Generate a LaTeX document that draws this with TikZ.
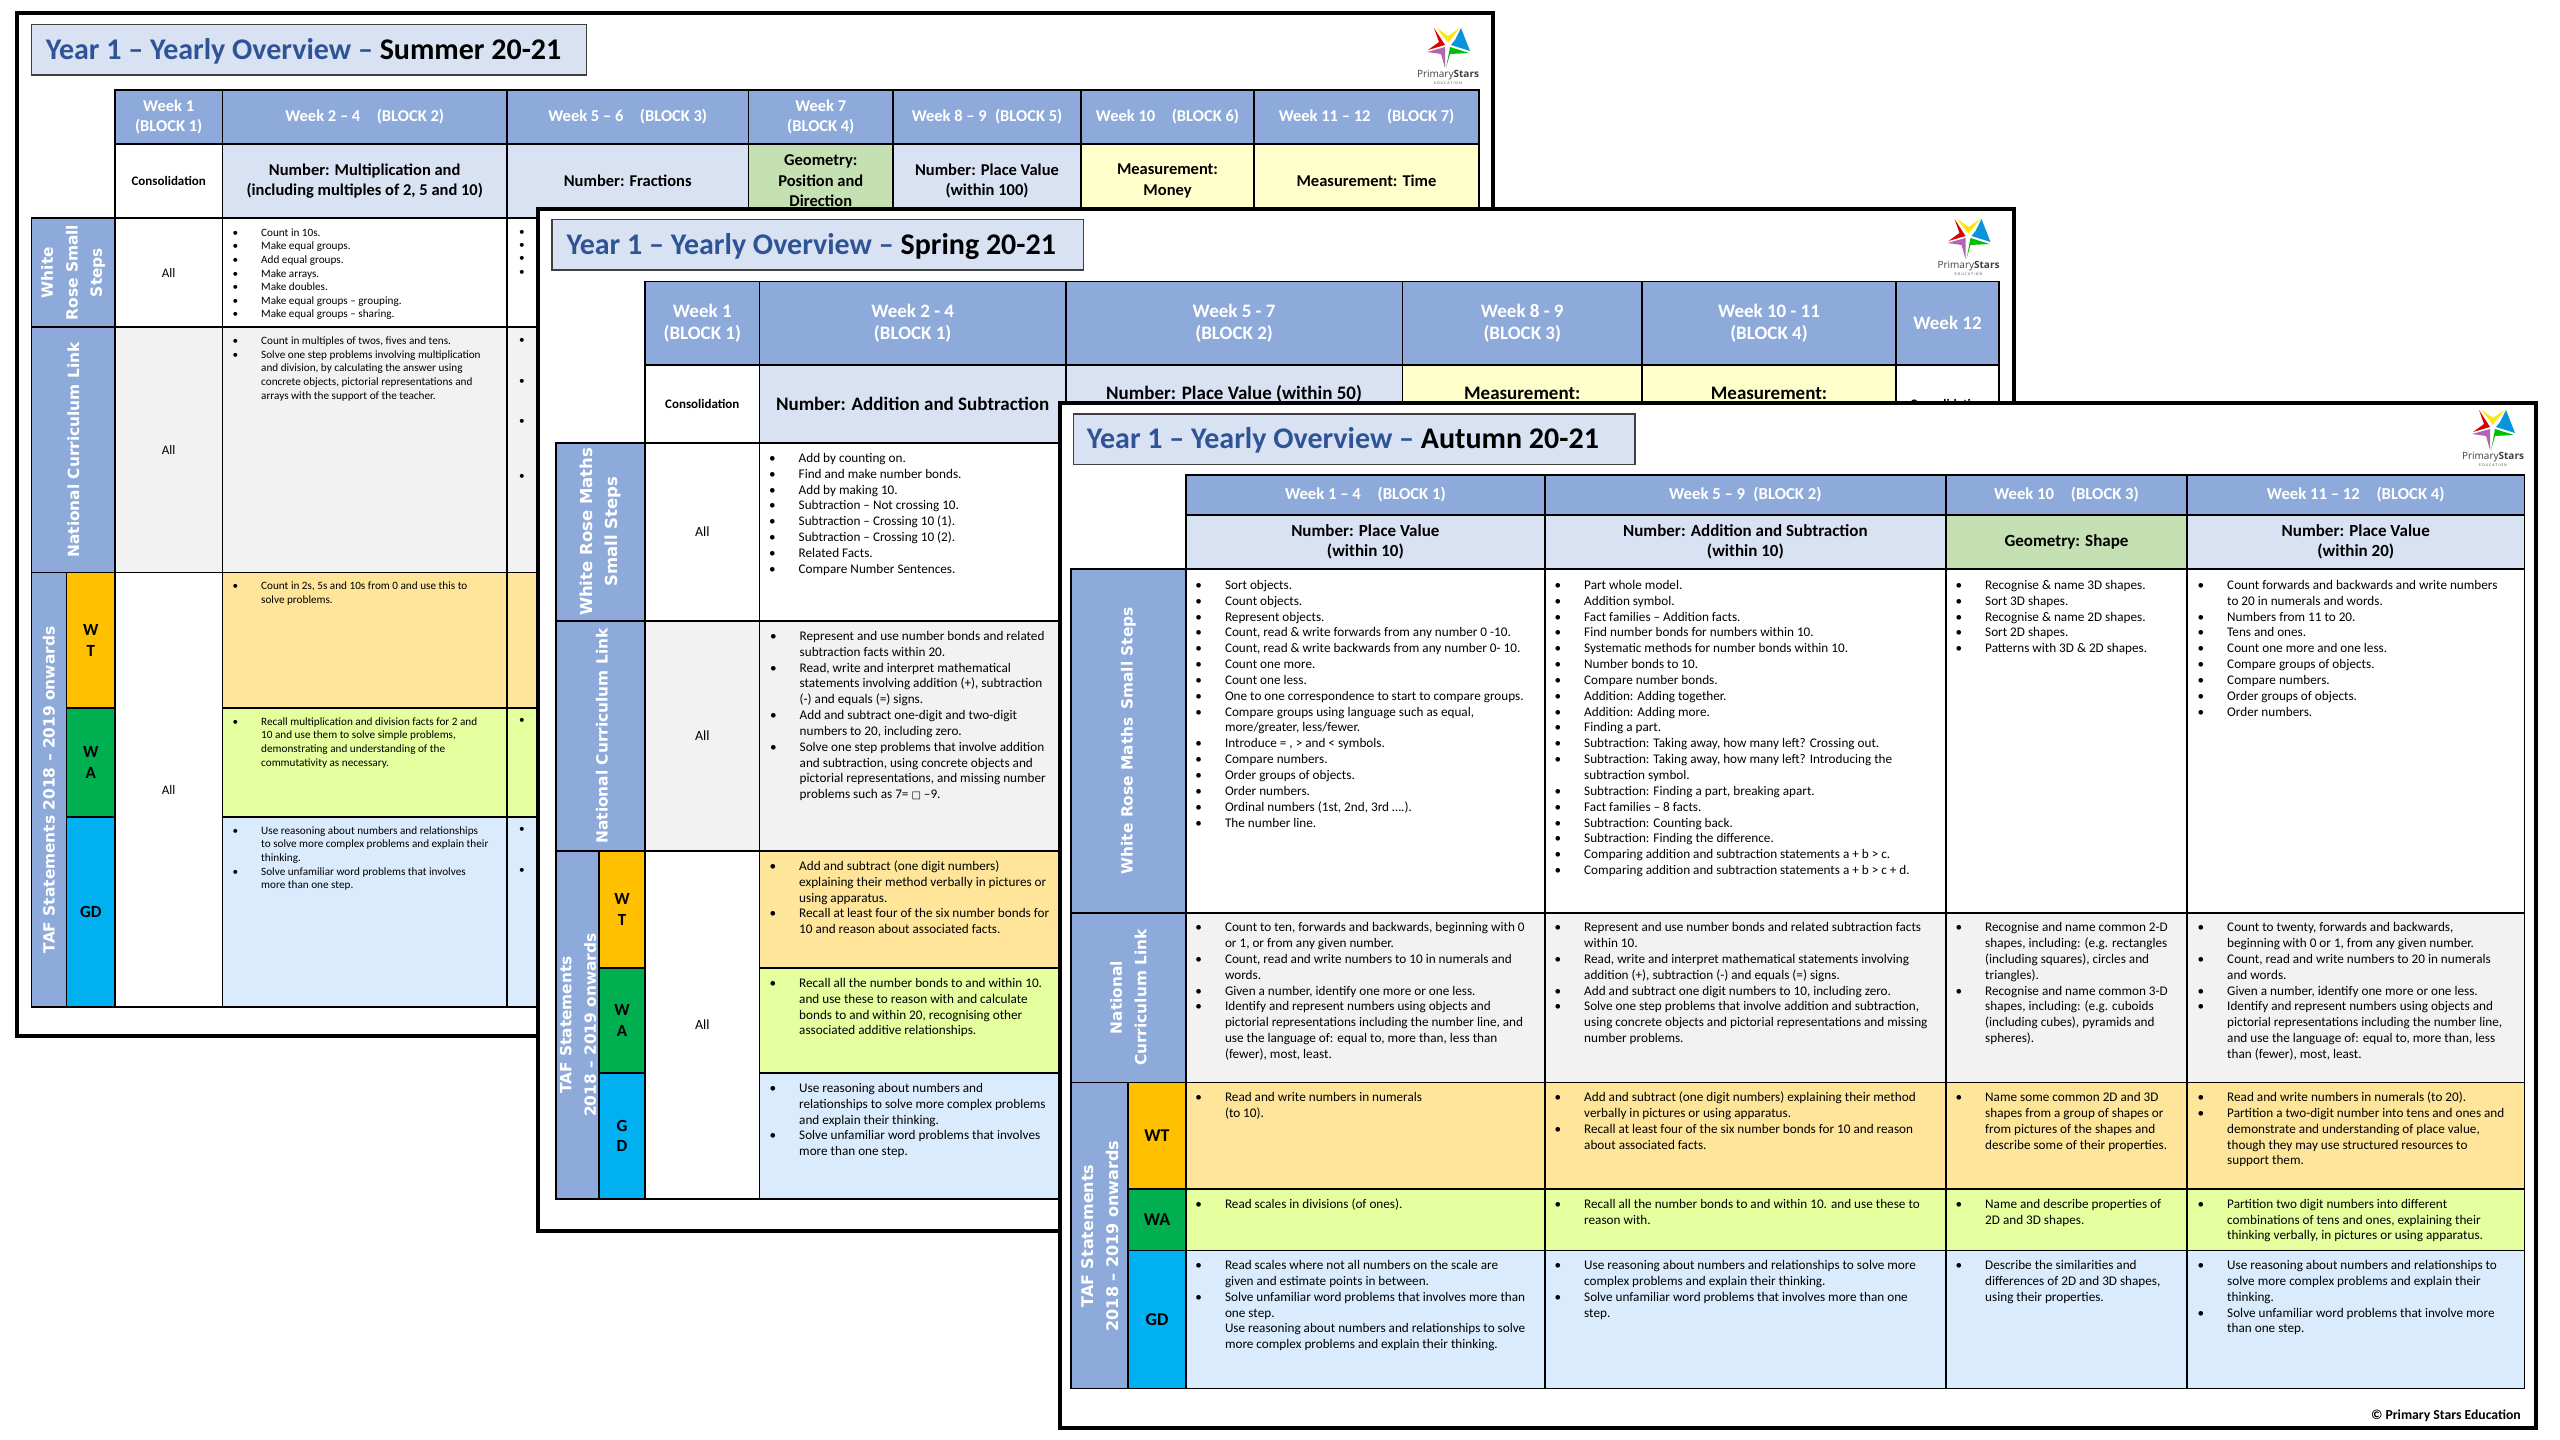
\documentclass[tikz,border=0pt]{standalone}
\usepackage{fontspec}
\setmainfont{Carlito}
\newfontfamily\sidefont{DejaVu Sans}
\newfontfamily\logofont{Open Sans}
\usetikzlibrary{positioning}
\definecolor{headblue}{HTML}{8EAADB}
\definecolor{subjblue}{HTML}{D9E2F3}
\definecolor{titleblue}{HTML}{2F5496}
\definecolor{geogreen}{HTML}{C5E0B3}
\definecolor{measyellow}{HTML}{FFFFCC}
\definecolor{nclgray}{HTML}{F2F2F2}
\definecolor{wtfill}{HTML}{FEE599}
\definecolor{wafill}{HTML}{E5FF9F}
\definecolor{gdfill}{HTML}{D9EBFD}
\definecolor{wttag}{HTML}{FFC000}
\definecolor{watag}{HTML}{00B050}
\definecolor{gdtag}{HTML}{00B0F0}
\definecolor{logogray}{HTML}{404040}
\newcommand\fsz[2]{\fontsize{#1}{#2}\selectfont}
\newcommand\bull{\strut\llap{•\hspace{23pt}}}
\tikzset{
  cellbox/.style={draw=black,line width=1.6pt,inner sep=0pt,align=center},
  sheetframe/.style={draw=black,fill=white,line width=4pt},
  titlebox/.style={draw=black!75,fill=subjblue,line width=1.3pt},
  titletext/.style={anchor=west,inner sep=0pt,font=\fsz{30}{32}\bfseries},
  sumlist/.style={anchor=north west,inner sep=0pt,align=left,font=\fsz{11.2}{13.6}},
  biglist/.style={anchor=north west,inner sep=0pt,align=left,font=\fsz{13.2}{15.85}},
  sidelabel/.style={rotate=90,text=white,inner sep=0pt,align=center,font=\sidefont\bfseries\fsz{15.4}{24.5}},
  dotmark/.style={inner sep=0pt,font=\fsz{11.2}{13.6}},
}
% one table cell, from corner to corner
\newcommand\gridcell[7]{%
  \pgfmathsetmacro\cw{#4-#2}\pgfmathsetmacro\ch{#5-#3}%
  \node[cellbox,#6,minimum width=\cw pt,minimum height=\ch pt] (#1) at ({(#2+#4)/2},{(#3+#5)/2}) {#7};}
% the star and the words under it
\newcommand\starlogo[3]{%
  \begin{scope}[shift={(#2,#3)}]
    \fill[yellow!90!orange] (-11.7,-18.3) -- (0,-10) -- (12,-18.3) -- (0,-3.5) -- cycle;
    \fill[red!85!black] (-14,-18) -- (-3,-1) -- (-20,4) -- (-9,-4) -- cycle;
    \fill[cyan!80!blue] (13,-18) -- (22,5) -- (3,-1) -- (7,-6) -- cycle;
    \fill[green!75!black] (21,7) -- (2,1) -- (-2,22) -- (2,8) -- cycle;
    \fill[violet!60!white] (-21,6) -- (-3,1) -- (-3,22) -- (-7,8) -- cycle;
    \node[inner sep=0pt,text=logogray,font=\logofont\fsz{10}{12}] (#1word) at (0,29) {Primary\textbf{Stars}};
    \node[inner sep=0pt,text=logogray,font=\logofont\fsz{3.6}{4}] (#1edu) at (0,37) {E D U C A T I O N};
  \end{scope}}
\begin{document}
\begin{tikzpicture}[x=1pt,y=-1pt]
  \path[fill=white,use as bounding box] (0,0) rectangle (2560,1440);

  %% Summer sheet
  \draw[sheetframe] (17,13) rectangle (1493,1036);
  \draw[titlebox] (31.5,24.5) rectangle (586.5,75);
  \node[titletext] (sumtitle) at (45.6,51) {\textcolor{titleblue}{Year 1 – Yearly Overview –} Summer 20-21};
  \starlogo{sum}{1448}{46}
  \foreach \nm/\xa/\xb/\txt in {a/115/222.4/{Week 1\\(BLOCK 1)},b/222.4/507/{Week 2 – 4\quad (BLOCK 2)},
      c/507/748.5/{Week 5 – 6\quad (BLOCK 3)},d/748.5/893/{Week 7\\(BLOCK 4)},e/893/1081/{Week 8 – 9\enspace (BLOCK 5)},
      f/1081/1254/{Week 10\quad (BLOCK 6)},g/1254/1479/{Week 11 – 12\quad (BLOCK 7)}} {
    \gridcell{sumh\nm}{\xa}{90}{\xb}{144}{fill=headblue,text=white,font=\fsz{16.5}{20.5}\bfseries}{\txt}
  }
  \foreach \nm/\xa/\xb/\col/\txt in {b/222.4/507/subjblue/{Number: Multiplication and\\(including multiples of 2, 5 and 10)},
      c/507/748.5/subjblue/{Number: Fractions},d/748.5/893/geogreen/{Geometry:\\Position and\\Direction},
      e/893/1081/subjblue/{Number: Place Value\\(within 100)},f/1081/1254/measyellow/{Measurement:\\Money},
      g/1254/1479/measyellow/{Measurement: Time}} {
    \gridcell{sums\nm}{\xa}{144}{\xb}{218}{fill=\col,font=\fsz{16.5}{20.5}\bfseries}{\txt}
  }
  \gridcell{sumsa}{115}{144}{222.4}{218}{fill=white,font=\fsz{13}{15}\bfseries}{Consolidation}
  \foreach \nm/\ya/\yb/\col in {ss/218/327/white,nc/327/572.6/nclgray,wt/572.6/708/wtfill,wa/708/817/wafill,gd/817/1007/gdfill} {
    \foreach \cn/\xa/\xb in {b/222.4/507,c/507/748.5} {
      \gridcell{sum\nm\cn}{\xa}{\ya}{\xb}{\yb}{fill=\col}{}
    }
  }
  \gridcell{sumssa}{115}{218}{222.4}{327}{fill=white,font=\fsz{13}{15}}{All}
  \gridcell{sumnca}{115}{327}{222.4}{572.6}{fill=nclgray,font=\fsz{13}{15}}{All}
  \gridcell{sumtafa}{115}{572.6}{222.4}{1007}{fill=white,font=\fsz{13}{15}}{All}
  \gridcell{sumsideA}{31.5}{218}{115}{327}{fill=headblue}{}
  \gridcell{sumsideB}{31.5}{327}{115}{572.6}{fill=headblue}{}
  \gridcell{sumsideC}{31.5}{572.6}{66.6}{1007}{fill=headblue}{}
  \gridcell{sumwt}{66.6}{572.6}{115}{708}{fill=wttag,font=\fsz{17}{20.5}\bfseries}{W\\T}
  \gridcell{sumwa}{66.6}{708}{115}{817}{fill=watag,font=\fsz{17}{20.5}\bfseries}{W\\A}
  \gridcell{sumgd}{66.6}{817}{115}{1007}{fill=gdtag,font=\fsz{17}{20.5}\bfseries}{GD}
  \node[sidelabel] (sumlabA) at (sumsideA.center) {White\\Rose Small\\Steps};
  \node[sidelabel] (sumlabB) at (73.5,450) {National Curriculum Link};
  \node[sidelabel] (sumlabC) at (49,790) {TAF Statements 2018 – 2019 onwards};
  \node[sumlist] (sumlistA) at (261,226.5) {\bull Count in 10s.\\\bull Make equal groups.\\\bull Add equal groups.\\\bull Make arrays.\\\bull Make doubles.\\\bull Make equal groups – grouping.\\\bull Make equal groups – sharing.};
  \node[sumlist] (sumlistB) at (261,335) {\bull Count in multiples of twos, fives and tens.\\\bull Solve one step problems involving multiplication\\and division, by calculating the answer using\\concrete objects, pictorial representations and\\arrays with the support of the teacher.};
  \node[sumlist] (sumlistC) at (261,579.7) {\bull Count in 2s, 5s and 10s from 0 and use this to\\solve problems.};
  \node[sumlist] (sumlistD) at (261,715.5) {\bull Recall multiplication and division facts for 2 and\\10 and use them to solve simple problems,\\demonstrating and understanding of the\\commutativity as necessary.};
  \node[sumlist] (sumlistE) at (261,824.5) {\bull Use reasoning about numbers and relationships\\to solve more complex problems and explain their\\thinking.\\\bull Solve unfamiliar word problems that involves\\more than one step.};
  \foreach \nm/\yy in {a/232.5,b/246,c/259.4,d/272.8,e/341,f/381.6,g/422.3,h/476.5,i/721.3,j/830,k/871} {
    \node[dotmark] (sumdot\nm) at (522,\yy) {•};
  }

  %% Spring sheet
  \draw[sheetframe] (537.5,209) rectangle (2014,1231);
  \draw[titlebox] (552,219.6) rectangle (1083.6,270);
  \node[titletext] (sprtitle) at (566.4,246.7) {\textcolor{titleblue}{Year 1 – Yearly Overview –} Spring 20-21};
  \starlogo{spr}{1968.5}{237}
  \foreach \nm/\xa/\xb/\txt in {a/645/759.6/{Week 1\\(BLOCK 1)},b/759.6/1065.7/{Week 2 - 4\\(BLOCK 1)},
      c/1065.7/1402.5/{Week 5 - 7\\(BLOCK 2)},d/1402.5/1642/{Week 8 - 9\\(BLOCK 3)},e/1642/1896/{Week 10 - 11\\(BLOCK 4)},f/1896/1999/{Week 12}} {
    \gridcell{sprh\nm}{\xa}{281.5}{\xb}{365}{fill=headblue,text=white,font=\fsz{19}{22.5}\bfseries}{\txt}
  }
  \gridcell{sprsa}{645}{365}{759.6}{443}{fill=white,font=\fsz{13}{15}\bfseries}{Consolidation}
  \gridcell{sprsb}{759.6}{365}{1065.7}{443}{fill=subjblue,font=\fsz{19}{22.5}\bfseries}{Number: Addition and Subtraction}
  \foreach \nm/\xa/\xb/\col/\txt in {c/1065.7/1402.5/subjblue/{Number: Place Value (within 50)},d/1402.5/1642/measyellow/{Measurement:},e/1642/1896/measyellow/{Measurement:}} {
    \gridcell{sprs\nm}{\xa}{365}{\xb}{443}{fill=\col}{}
    \node[inner sep=0pt,font=\fsz{19}{22.5}\bfseries] (sprt\nm) at ({(\xa+\xb)/2},393.5) {\txt};
  }
  \gridcell{sprsf}{1896}{365}{1999}{443}{fill=white,font=\fsz{13}{15}\bfseries}{Consolidation}
  \gridcell{sprssb}{759.6}{443}{1065.7}{620.7}{fill=white}{}
  \gridcell{sprncb}{759.6}{620.7}{1065.7}{851}{fill=nclgray}{}
  \gridcell{sprwtb}{759.6}{851}{1065.7}{968}{fill=wtfill}{}
  \gridcell{sprwab}{759.6}{968}{1065.7}{1072.7}{fill=wafill}{}
  \gridcell{sprgdb}{759.6}{1072.7}{1065.7}{1199}{fill=gdfill}{}
  \gridcell{sprssa}{645}{443}{759.6}{620.7}{fill=white,font=\fsz{14}{16}}{All}
  \gridcell{sprnca}{645}{620.7}{759.6}{851}{fill=nclgray,font=\fsz{14}{16}}{All}
  \gridcell{sprtafa}{645}{851}{759.6}{1199}{fill=white,font=\fsz{14}{16}}{All}
  \gridcell{sprsideA}{556}{443}{645}{620.7}{fill=headblue}{}
  \gridcell{sprsideB}{556}{620.7}{645}{851}{fill=headblue}{}
  \gridcell{sprsideC}{556}{851}{599}{1199}{fill=headblue}{}
  \gridcell{sprwt}{599}{851}{645}{968}{fill=wttag,font=\fsz{17}{20.5}\bfseries}{W\\T}
  \gridcell{sprwa}{599}{968}{645}{1072.7}{fill=watag,font=\fsz{17}{20.5}\bfseries}{W\\A}
  \gridcell{sprgd}{599}{1072.7}{645}{1199}{fill=gdtag,font=\fsz{17}{20.5}\bfseries}{G\\D}
  \node[sidelabel,font=\sidefont\bfseries\fsz{16.5}{25.5}] (sprlabA) at (sprsideA.center) {White Rose Maths\\Small Steps};
  \node[sidelabel] (sprlabB) at (602,736) {National Curriculum Link};
  \node[sidelabel] (sprlabC) at (578,1025) {TAF Statements\\2018 – 2019 onwards};
  \node[biglist] (sprlistA) at (798.5,451) {\bull Add by counting on.\\\bull Find and make number bonds.\\\bull Add by making 10.\\\bull Subtraction – Not crossing 10.\\\bull Subtraction – Crossing 10 (1).\\\bull Subtraction – Crossing 10 (2).\\\bull Related Facts.\\\bull Compare Number Sentences.};
  \node[biglist] (sprlistB) at (799.5,629) {\bull Represent and use number bonds and related\\subtraction facts within 20.\\\bull Read, write and interpret mathematical\\statements involving addition (+), subtraction\\(-) and equals (=) signs.\\\bull Add and subtract one-digit and two-digit\\numbers to 20, including zero.\\\bull Solve one step problems that involve addition\\and subtraction, using concrete objects and\\pictorial representations, and missing number\\problems such as 7= {\sidefont\fsz{10}{15.85}□} –9.};
  \node[biglist] (sprlistC) at (799,859) {\bull Add and subtract (one digit numbers)\\explaining their method verbally in pictures or\\using apparatus.\\\bull Recall at least four of the six number bonds for\\10 and reason about associated facts.};
  \node[biglist] (sprlistD) at (799,976) {\bull Recall all the number bonds to and within 10.\\and use these to reason with and calculate\\bonds to and within 20, recognising other\\associated additive relationships.};
  \node[biglist] (sprlistE) at (799,1081) {\bull Use reasoning about numbers and\\relationships to solve more complex problems\\and explain their thinking.\\\bull Solve unfamiliar word problems that involves\\more than one step.};

  %% Autumn sheet
  \draw[sheetframe] (1060,403) rectangle (2536,1427.5);
  \draw[titlebox] (1073.6,414) rectangle (1635,464.7);
  \node[titletext] (auttitle) at (1086.7,440) {\textcolor{titleblue}{Year 1 – Yearly Overview –} Autumn 20-21};
  \starlogo{aut}{2493}{428}
  \foreach \nm/\xa/\xb/\txt/\sub/\col in {a/1186/1544.7/{Week 1 – 4\quad (BLOCK 1)}/{Number: Place Value\\(within 10)}/subjblue,
      b/1544.7/1946/{Week 5 – 9\enspace (BLOCK 2)}/{Number: Addition and Subtraction\\(within 10)}/subjblue,
      c/1946/2187/{Week 10\quad (BLOCK 3)}/{Geometry: Shape}/geogreen,
      d/2187/2524.5/{Week 11 – 12\quad (BLOCK 4)}/{Number: Place Value\\(within 20)}/subjblue} {
    \gridcell{auth\nm}{\xa}{474.7}{\xb}{515}{fill=headblue,text=white,font=\fsz{16.7}{20.3}\bfseries}{\txt}
    \gridcell{auts\nm}{\xa}{515}{\xb}{568.7}{fill=\col,font=\fsz{17}{20.3}\bfseries}{\sub}
  }
  \foreach \nm/\ya/\yb/\col in {ss/568.7/912.7/white,nc/912.7/1082.5/nclgray,wt/1082.5/1189/wtfill,wa/1189/1250.5/wafill,gd/1250.5/1388.5/gdfill} {
    \foreach \cn/\xa/\xb in {a/1186/1544.7,b/1544.7/1946,c/1946/2187,d/2187/2524.5} {
      \gridcell{aut\nm\cn}{\xa}{\ya}{\xb}{\yb}{fill=\col}{}
    }
  }
  \gridcell{autsideA}{1070.7}{568.7}{1186}{912.7}{fill=headblue}{}
  \gridcell{autsideB}{1070.7}{912.7}{1186}{1082.5}{fill=headblue}{}
  \gridcell{autsideC}{1070.7}{1082.5}{1128}{1388.5}{fill=headblue}{}
  \gridcell{autwt}{1128}{1082.5}{1186}{1189}{fill=wttag,font=\fsz{18}{20}\bfseries}{WT}
  \gridcell{autwa}{1128}{1189}{1186}{1250.5}{fill=watag,font=\fsz{18}{20}\bfseries}{WA}
  \gridcell{autgd}{1128}{1250.5}{1186}{1388.5}{fill=gdtag,font=\fsz{18}{20}\bfseries}{GD}
  \node[sidelabel] (autlabA) at (autsideA.center) {White Rose Maths\enspace Small Steps};
  \node[sidelabel] (autlabB) at (autsideB.center) {National\\Curriculum Link};
  \node[sidelabel,font=\sidefont\bfseries\fsz{16}{24.5}] (autlabC) at (1100,1236) {TAF Statements\\2018 – 2019 onwards};
  % small steps
  \node[biglist] (autlistA) at (1224.8,578) {\bull Sort objects.\\\bull Count objects.\\\bull Represent objects.\\\bull Count, read \& write forwards from any number 0 -10.\\\bull Count, read \& write backwards from any number 0- 10.\\\bull Count one more.\\\bull Count one less.\\\bull One to one correspondence to start to compare groups.\\\bull Compare groups using language such as equal,\\more/greater, less/fewer.\\\bull Introduce = , > and < symbols.\\\bull Compare numbers.\\\bull Order groups of objects.\\\bull Order numbers.\\\bull Ordinal numbers (1st, 2nd, 3rd ….).\\\bull The number line.};
  \node[biglist] (autlistB) at (1584,578) {\bull Part whole model.\\\bull Addition symbol.\\\bull Fact families – Addition facts.\\\bull Find number bonds for numbers within 10.\\\bull Systematic methods for number bonds within 10.\\\bull Number bonds to 10.\\\bull Compare number bonds.\\\bull Addition: Adding together.\\\bull Addition: Adding more.\\\bull Finding a part.\\\bull Subtraction: Taking away, how many left? Crossing out.\\\bull Subtraction: Taking away, how many left? Introducing the\\subtraction symbol.\\\bull Subtraction: Finding a part, breaking apart.\\\bull Fact families – 8 facts.\\\bull Subtraction: Counting back.\\\bull Subtraction: Finding the difference.\\\bull Comparing addition and subtraction statements a + b > c.\\\bull Comparing addition and subtraction statements a + b > c + d.};
  \node[biglist] (autlistC) at (1985,578) {\bull Recognise \& name 3D shapes.\\\bull Sort 3D shapes.\\\bull Recognise \& name 2D shapes.\\\bull Sort 2D shapes.\\\bull Patterns with 3D \& 2D shapes.};
  \node[biglist] (autlistD) at (2227,578) {\bull Count forwards and backwards and write numbers\\to 20 in numerals and words.\\\bull Numbers from 11 to 20.\\\bull Tens and ones.\\\bull Count one more and one less.\\\bull Compare groups of objects.\\\bull Compare numbers.\\\bull Order groups of objects.\\\bull Order numbers.};
  % curriculum link
  \node[biglist] (autlistE) at (1224.8,920.3) {\bull Count to ten, forwards and backwards, beginning with 0\\or 1, or from any given number.\\\bull Count, read and write numbers to 10 in numerals and\\words.\\\bull Given a number, identify one more or one less.\\\bull Identify and represent numbers using objects and\\pictorial representations including the number line, and\\use the language of: equal to, more than, less than\\(fewer), most, least.};
  \node[biglist] (autlistF) at (1584,920.3) {\bull Represent and use number bonds and related subtraction facts\\within 10.\\\bull Read, write and interpret mathematical statements involving\\addition (+), subtraction (-) and equals (=) signs.\\\bull Add and subtract one digit numbers to 10, including zero.\\\bull Solve one step problems that involve addition and subtraction,\\using concrete objects and pictorial representations and missing\\number problems.};
  \node[biglist] (autlistG) at (1985,920.3) {\bull Recognise and name common 2-D\\shapes, including: (e.g. rectangles\\(including squares), circles and\\triangles).\\\bull Recognise and name common 3-D\\shapes, including: (e.g. cuboids\\(including cubes), pyramids and\\spheres).};
  \node[biglist] (autlistH) at (2227,920.3) {\bull Count to twenty, forwards and backwards,\\beginning with 0 or 1, from any given number.\\\bull Count, read and write numbers to 20 in numerals\\and words.\\\bull Given a number, identify one more or one less.\\\bull Identify and represent numbers using objects and\\pictorial representations including the number line,\\and use the language of: equal to, more than, less\\than (fewer), most, least.};
  % working towards
  \node[biglist] (autlistI) at (1224.8,1090.2) {\bull Read and write numbers in numerals\\(to 10).};
  \node[biglist] (autlistJ) at (1584,1090.2) {\bull Add and subtract (one digit numbers) explaining their method\\verbally in pictures or using apparatus.\\\bull Recall at least four of the six number bonds for 10 and reason\\about associated facts.};
  \node[biglist] (autlistK) at (1985,1090.2) {\bull Name some common 2D and 3D\\shapes from a group of shapes or\\from pictures of the shapes and\\describe some of their properties.};
  \node[biglist] (autlistL) at (2227,1090.2) {\bull Read and write numbers in numerals (to 20).\\\bull Partition a two-digit number into tens and ones and\\demonstrate and understanding of place value,\\though they may use structured resources to\\support them.};
  % working at
  \node[biglist] (autlistM) at (1224.8,1196.9) {\bull Read scales in divisions (of ones).};
  \node[biglist] (autlistN) at (1584,1196.9) {\bull Recall all the number bonds to and within 10. and use these to\\reason with.};
  \node[biglist] (autlistO) at (1985,1196.9) {\bull Name and describe properties of\\2D and 3D shapes.};
  \node[biglist] (autlistP) at (2227,1196.9) {\bull Partition two digit numbers into different\\combinations of tens and ones, explaining their\\thinking verbally, in pictures or using apparatus.};
  % greater depth
  \node[biglist] (autlistQ) at (1224.8,1258.2) {\bull Read scales where not all numbers on the scale are\\given and estimate points in between.\\\bull Solve unfamiliar word problems that involves more than\\one step.\\Use reasoning about numbers and relationships to solve\\more complex problems and explain their thinking.};
  \node[biglist] (autlistR) at (1584,1258.2) {\bull Use reasoning about numbers and relationships to solve more\\complex problems and explain their thinking.\\\bull Solve unfamiliar word problems that involves more than one\\step.};
  \node[biglist] (autlistS) at (1985,1258.2) {\bull Describe the similarities and\\differences of 2D and 3D shapes,\\using their properties.};
  \node[biglist] (autlistT) at (2227,1258.2) {\bull Use reasoning about numbers and relationships to\\solve more complex problems and explain their\\thinking.\\\bull Solve unfamiliar word problems that involve more\\than one step.};
  \node[anchor=east,inner sep=0pt,font=\fsz{13.7}{15}\bfseries] (autcopy) at (2521,1416) {© Primary Stars Education};
\end{tikzpicture}
\end{document}
